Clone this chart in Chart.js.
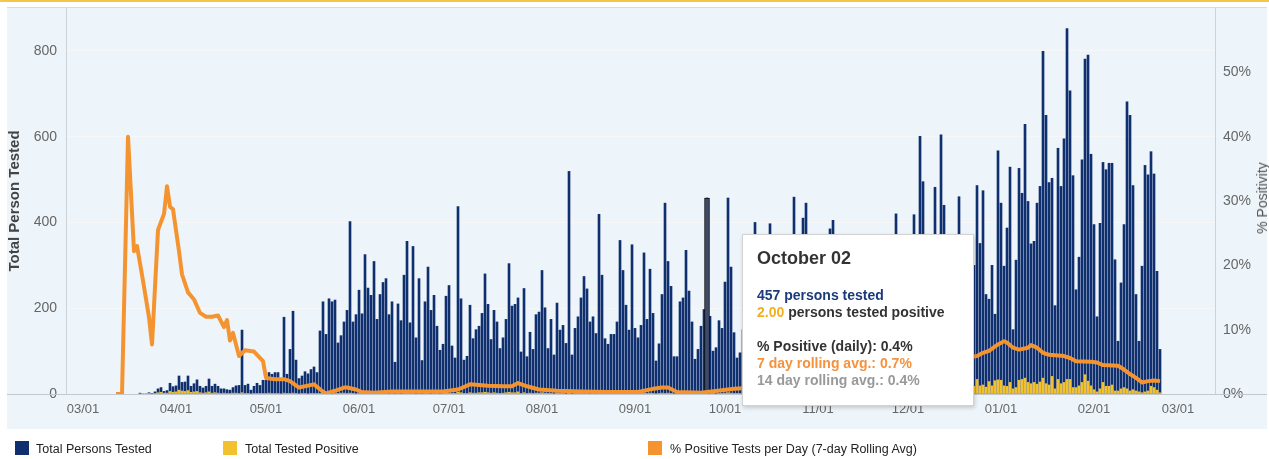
<!DOCTYPE html>
<html>
<head>
<meta charset="utf-8">
<script src="https://cdn.jsdelivr.net/npm/chart.js@4.4.1/dist/chart.umd.min.js"></script>
<style>
  body { margin: 0; background: #fff; font-family: "Liberation Sans", Arial, sans-serif; }
  #wrap { position: relative; width: 1269px; height: 459px; overflow: hidden; }
  #goldline { position: absolute; left: 0; top: 0; width: 1269px; height: 2px; background: #f4c64a; }
  #c { position: absolute; left: 0; top: 0; }
  #rtitle { position: absolute; left: 1262px; top: 198px; transform: translate(-50%, -50%) rotate(-90deg);
            white-space: nowrap; font-size: 14px; color: #555; }
  #tip { position: absolute; left: 742px; top: 234px; width: 230px; height: 170px; background: #fff;
         border: 1px solid #d2d2d2; box-shadow: 1px 2px 4px rgba(0,0,0,0.18); font-weight: bold; font-size: 14px; }
  #tip .hd { position: absolute; left: 14px; top: 13px; font-size: 18px; color: #333; }
  #tip .bd { position: absolute; left: 14px; top: 52px; line-height: 17px; white-space: nowrap; }
  #legend { position: absolute; left: 0; top: 441px; width: 1269px; height: 16px; font-size: 12.5px; color: #222; }
  #legend span.sw { position: absolute; top: 0; width: 14px; height: 14px; }
  #legend span.tx { position: absolute; top: 0; line-height: 16px; white-space: nowrap; }
</style>
</head>
<body>
<div id="wrap">
  <div id="goldline"></div>
  <canvas id="c" width="1269" height="459"></canvas>
  <div id="rtitle">% Positivity</div>
  <div id="tip">
    <div class="hd">October 02</div>
    <div class="bd">
      <div style="color:#1b3a7a">457 persons tested</div>
      <div><span style="color:#f2b01e">2.00</span> <span style="color:#333">persons tested positive</span></div>
      <div>&nbsp;</div>
      <div style="color:#333">% Positive (daily): 0.4%</div>
      <div style="color:#f5923e">7 day rolling avg.: 0.7%</div>
      <div style="color:#999">14 day rolling avg.: 0.4%</div>
    </div>
  </div>
  <div id="legend">
    <span class="sw" style="left:15px;background:#0f2f6f"></span><span class="tx" style="left:36px">Total Persons Tested</span>
    <span class="sw" style="left:223px;background:#f2c12e"></span><span class="tx" style="left:245px">Total Tested Positive</span>
    <span class="sw" style="left:648px;background:#f49431"></span><span class="tx" style="left:670px">% Positive Tests per Day (7-day Rolling Avg)</span>
  </div>
</div>
<script>
// day 0 = 03/01 (2020); one bar per day starting at firstDay
const monthDays = [0, 31, 61, 92, 122, 153, 184, 214, 245, 275, 306, 337, 365];
const monthLabels = ["03/01", "04/01", "05/01", "06/01", "07/01", "08/01", "09/01", "10/01", "11/01", "12/01", "01/01", "02/01", "03/01"];

const firstDay = 19;
const tested = [
  2, 0, 0, 3, 1, 5, 12, 15, 6, 8,
  25, 17, 19, 42, 27, 28, 42, 18, 24, 33,
  18, 14, 18, 35, 18, 23, 18, 12, 12, 10,
  9, 15, 19, 20, 149, 20, 23, 9, 18, 25,
  20, 32, 32, 50, 46, 50, 50, 32, 179, 46,
  104, 193, 79, 36, 42, 52, 47, 57, 63, 50,
  147, 215, 139, 222, 215, 219, 119, 136, 168, 195,
  402, 168, 185, 242, 187, 325, 247, 230, 309, 174,
  232, 260, 269, 185, 215, 74, 210, 171, 277, 356,
  166, 344, 131, 269, 78, 215, 296, 195, 230, 158,
  102, 116, 228, 253, 112, 84, 437, 222, 79, 88,
  207, 129, 150, 158, 188, 280, 209, 127, 195, 168,
  106, 131, 174, 304, 205, 209, 224, 98, 246, 87,
  144, 104, 185, 191, 288, 201, 106, 174, 91, 212,
  149, 160, 118, 519, 91, 153, 180, 224, 274, 245,
  168, 180, 141, 419, 277, 129, 116, 139, 139, 168,
  358, 288, 207, 149, 348, 153, 131, 160, 329, 174,
  291, 188, 77, 117, 232, 445, 309, 251, 87, 87,
  215, 224, 335, 240, 168, 81, 104, 158, 197, 457,
  181, 100, 108, 171, 153, 261, 457, 296, 143, 84,
  96, 150, 210, 260, 180, 400, 120, 90, 230, 280,
  397, 210, 160, 110, 130, 250, 300, 220, 459, 170,
  120, 410, 445, 260, 190, 140, 110, 230, 300, 260,
  385, 405, 210, 150, 120, 240, 320, 280, 200, 150,
  110, 250, 330, 290, 180, 140, 120, 260, 372, 300,
  220, 160, 420, 240, 130, 190, 280, 340, 418, 250,
  601, 495, 200, 150, 330, 482, 260, 604, 440, 210,
  170, 300, 350, 460, 240, 190, 260, 340, 300, 486,
  351, 474, 232, 221, 300, 186, 567, 445, 298, 387,
  529, 150, 312, 526, 468, 629, 449, 350, 356, 445,
  484, 799, 650, 493, 503, 206, 573, 484, 595, 852,
  707, 509, 243, 319, 546, 781, 790, 559, 395, 180,
  398, 540, 523, 538, 538, 313, 123, 259, 395, 681,
  650, 486, 232, 123, 298, 533, 511, 565, 513, 286,
  104
];
const positive = [
  0, 0, 0, 1, 0, 1, 3, 4, 2, 2,
  6, 4, 5, 9, 7, 6, 8, 4, 5, 6,
  3, 2, 3, 5, 2, 3, 2, 1, 2, 1,
  1, 2, 2, 1, 3, 1, 1, 0, 1, 1,
  1, 1, 1, 2, 1, 1, 1, 0, 2, 1,
  1, 2, 1, 0, 1, 1, 0, 1, 1, 1,
  1, 1, 0, 1, 0, 1, 1, 2, 2, 1,
  2, 1, 0, 1, 1, 1, 0, 1, 1, 0,
  1, 1, 1, 0, 1, 0, 1, 0, 1, 1,
  1, 1, 0, 1, 0, 1, 1, 0, 1, 1,
  0, 1, 2, 2, 1, 1, 4, 3, 1, 1,
  3, 2, 2, 3, 3, 4, 3, 2, 3, 2,
  1, 2, 3, 4, 3, 3, 5, 1, 3, 1,
  2, 1, 2, 2, 3, 2, 1, 1, 0, 2,
  1, 1, 0, 2, 0, 1, 1, 1, 1, 1,
  0, 1, 0, 2, 1, 0, 0, 1, 0, 1,
  2, 2, 1, 1, 2, 1, 0, 1, 2, 1,
  2, 1, 0, 1, 2, 1, 2, 1, 0, 0,
  1, 1, 2, 1, 1, 0, 0, 1, 1, 2,
  1, 1, 0, 1, 1, 2, 3, 2, 1, 1,
  1, 1, 2, 2, 1, 3, 1, 1, 2, 2,
  4, 2, 2, 1, 2, 3, 4, 3, 5, 2,
  2, 5, 6, 4, 3, 2, 2, 4, 5, 4,
  7, 8, 4, 3, 3, 5, 7, 6, 5, 4,
  3, 7, 9, 8, 5, 4, 4, 9, 11, 10,
  8, 6, 14, 9, 6, 8, 12, 15, 18, 11,
  24, 20, 9, 8, 15, 22, 12, 28, 20, 11,
  9, 16, 20, 25, 14, 12, 17, 21, 18, 34,
  19, 21, 16, 29, 19, 31, 33, 32, 19, 18,
  27, 12, 15, 32, 34, 37, 27, 24, 27, 23,
  28, 37, 24, 21, 41, 12, 34, 24, 27, 34,
  34, 15, 15, 19, 27, 45, 30, 19, 10, 5,
  12, 27, 18, 18, 21, 7, 7, 12, 15, 12,
  7, 10, 7, 5, 3, 5, 7, 18, 15, 9,
  3
];

// 7-day rolling % positive
const pctDays = [11, 13, 15, 17, 18, 20, 22, 23, 25, 27, 28, 29, 30, 32, 33, 35, 37, 39, 41, 43,
  45, 47, 48, 49, 50, 52, 54, 57, 60, 61, 64, 67, 69, 72, 77, 80, 81, 84, 87, 88,
  91, 93, 97, 103, 110, 120, 125, 129, 135, 140, 143, 145, 148, 152, 158, 166, 175, 185, 190, 193,
  195, 198, 206, 213, 217, 225, 235, 245, 255, 265, 275, 285, 292, 298, 300, 302, 305, 307, 308, 310,
  312, 315, 316, 318, 320, 322, 327, 329, 331, 336, 338, 340, 345, 347, 349, 351, 353, 355, 357, 359];
const pctValues = [0, 0, 40, 22.2, 23, 17.6, 11.9, 7.7, 25.5, 28, 32.3, 29.1, 28.7, 22.2, 18.6, 15.8, 14.7, 12.6, 12, 12,
  12.2, 10.4, 11.5, 8.3, 9.5, 5.9, 6.8, 6.6, 5.1, 2.5, 2.3, 2.3, 2, 1, 1.5, 0.35, 0.1, 0.5, 1, 1,
  0.7, 0.3, 0.2, 0.4, 0.4, 0.4, 0.7, 1.5, 1.3, 1.2, 1.2, 1.7, 1.2, 0.7, 0.5, 0.4, 0.3, 0.3, 0.8, 1,
  1, 0.3, 0.2, 0.6, 0.8, 1, 1.5, 2, 2.5, 3, 3.8, 4.8, 5.5, 5.9, 6.4, 6.7, 7.7, 8.2, 8, 7.2,
  6.9, 7.2, 7.6, 7.2, 6.4, 6.1, 5.9, 5.6, 5.1, 5, 4.9, 4.5, 4.4, 3.8, 3.1, 2.5, 1.8, 2, 2.1, 2];

const hoverDay = 208; // "October 02" in the tooltip

const navy = "#0f2f6f";
const gold = "#f2c12e";
const orange = "#f49431";
const fontFamily = "'Liberation Sans', Arial, sans-serif";

Chart.defaults.font.family = fontFamily;

const backdrop = {
  id: "backdrop",
  beforeDraw(chart) {
    const c = chart.ctx;
    c.save();
    c.fillStyle = "#eef5fa";
    c.fillRect(7, 8, 1260, 421);
    c.fillStyle = "#dadada";
    c.fillRect(7, 7, 1260, 1);
    c.restore();
  },
  beforeDatasetsDraw(chart) {
    const c = chart.ctx;
    const y0 = Math.round(chart.scales.y.getPixelForValue(0)) + 0.5;
    c.save();
    c.strokeStyle = "#c4c8cc";
    c.lineWidth = 1;
    c.beginPath();
    c.moveTo(7, y0);
    c.lineTo(1267, y0);
    c.stroke();
    c.restore();
  }
};

// vertical axes: fixed width, no extra room for half-labels at the ends
const fixAxis = width => s => {
  s.width = width;
  s.paddingTop = 0;
  s.paddingBottom = 0;
};

new Chart(document.getElementById("c"), {
  type: "bar",
  data: {
    datasets: [
      {
        type: "line",
        data: pctDays.map((d, i) => ({ x: d, y: pctValues[i] })),
        yAxisID: "y1",
        borderColor: orange,
        borderWidth: 4,
        pointRadius: 0,
        tension: 0,
        borderJoinStyle: "round",
        order: 0
      },
      {
        data: [{ x: hoverDay, y: tested[hoverDay - firstDay] }],
        yAxisID: "y",
        backgroundColor: "#3d4a68",
        borderColor: "#111",
        borderWidth: 1,
        borderSkipped: false,
        barThickness: 5,
        grouped: false,
        order: 1
      },
      {
        data: positive.map((v, i) => ({ x: firstDay + i, y: v })),
        yAxisID: "y",
        backgroundColor: gold,
        barThickness: 2,
        grouped: false,
        order: 2
      },
      {
        data: tested.map((v, i) => ({ x: firstDay + i, y: v })),
        yAxisID: "y",
        backgroundColor: navy,
        barThickness: 2,
        grouped: false,
        order: 3
      }
    ]
  },
  options: {
    responsive: false,
    animation: false,
    devicePixelRatio: 1,
    events: [],
    layout: { autoPadding: false, padding: { left: 0, right: 0, top: 8, bottom: 30 } },
    plugins: { legend: { display: false }, tooltip: { enabled: false } },
    scales: {
      x: {
        type: "linear",
        offset: false,
        min: -5.67,
        max: 377.33,
        grid: { display: false, drawTicks: false },
        border: { display: false },
        afterBuildTicks: s => { s.ticks = monthDays.map(v => ({ value: v })); },
        afterFit: s => { s.height = 35; },
        ticks: {
          autoSkip: false,
          maxRotation: 0,
          padding: 8,
          color: "#666",
          font: { size: 13 },
          callback: v => monthLabels[monthDays.indexOf(v)]
        }
      },
      y: {
        position: "left",
        min: 0,
        max: 900,
        afterBuildTicks: s => { s.ticks = [0, 200, 400, 600, 800].map(v => ({ value: v })); },
        afterFit: fixAxis(66),
        grid: { color: "#f7f7f7", drawTicks: false },
        border: { color: "#cfd3d6" },
        ticks: { padding: 9, color: "#666", font: { size: 14 } },
        title: { display: true, text: "Total Person Tested", color: "#444", font: { size: 15, weight: "bold" }, padding: { top: 6, bottom: 0 } }
      },
      y1: {
        position: "right",
        min: 0,
        max: 60,
        afterBuildTicks: s => { s.ticks = [0, 10, 20, 30, 40, 50].map(v => ({ value: v })); },
        afterFit: fixAxis(54),
        grid: { drawOnChartArea: false, drawTicks: false },
        border: { color: "#cfd3d6" },
        ticks: { padding: 8, color: "#666", font: { size: 14 }, callback: v => v + "%" }
      }
    }
  },
  plugins: [backdrop]
});
</script>
</body>
</html>
